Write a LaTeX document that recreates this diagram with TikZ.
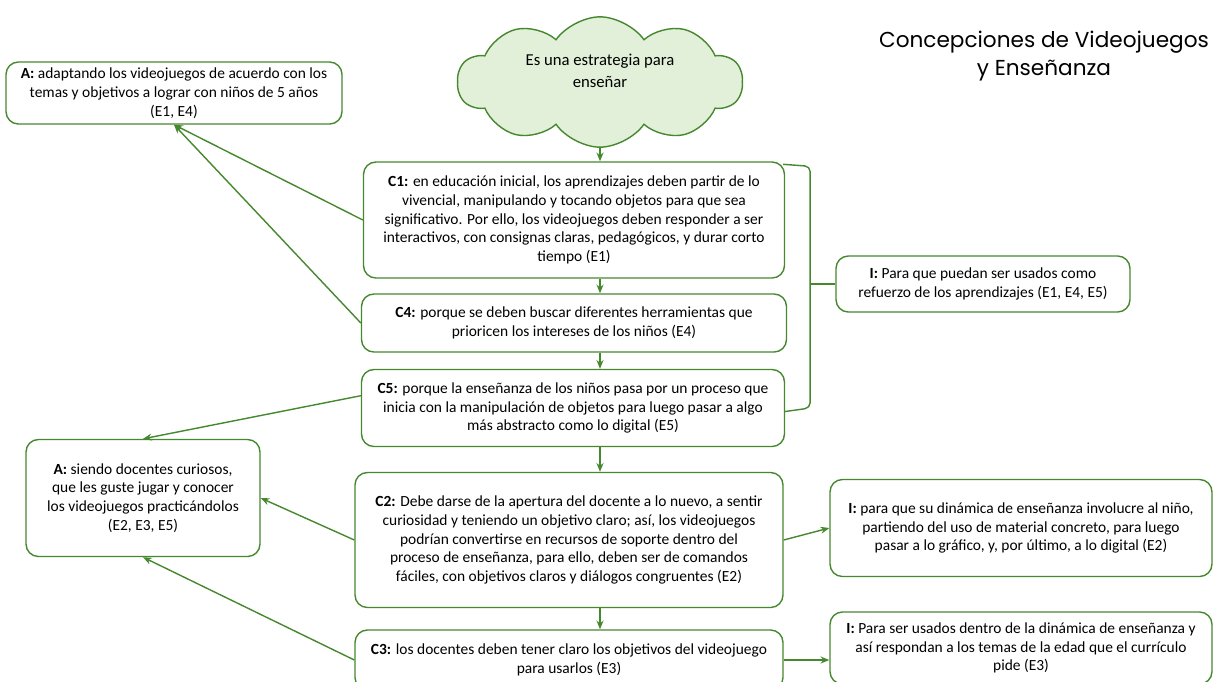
\documentclass[tikz,border=0pt]{standalone}
\usepackage{fontspec}
\setmainfont{Carlito}
\newfontfamily\titlefont{Poppins}
\usetikzlibrary{shapes.symbols,arrows.meta}
\definecolor{boxgreen}{RGB}{70,136,46}
\definecolor{cloudfill}{RGB}{226,240,218}

\begin{document}
\begin{tikzpicture}[x=0.02cm,y=-0.02cm,
		box/.style={draw=boxgreen, line width=0.8pt, rounded corners=7pt, align=center, inner sep=0pt, font=\fontsize{8.8}{10.7}\selectfont},
		link/.style={draw=boxgreen, line width=0.8pt},
		arr/.style={link, -{Stealth[length=5pt,width=4pt]}}]
	\useasboundingbox (0,0) rectangle (1225,681);
	% titulo
	\node[font=\titlefont\fontsize{12.3}{15.5}\selectfont, align=center] (titulo) at (1044,56) {Concepciones de Videojuegos\\y Enseñanza};
	% nube
	\node[cloud, cloud puffs=10, cloud puff arc=110, aspect=2.3, draw=boxgreen, fill=cloudfill, line width=0.8pt, minimum width=5.7cm, minimum height=2.55cm, align=center, font=\fontsize{9.5}{12.5}\selectfont] (nube) at (600,82) {Es una estrategia para\\enseñar\\\mbox{}};
	% columna central
	\node[box, minimum width=8.42cm, minimum height=2.32cm] (C1) at (574,220) {\textbf{C1:} en educación inicial, los aprendizajes deben partir de lo\\vivencial, manipulando y tocando objetos para que sea\\significativo. Por ello, los videojuegos deben responder a ser\\interactivos, con consignas claras, pedagógicos, y durar corto\\tiempo (E1)};
	\node[box, minimum width=8.5cm, minimum height=1.16cm] (C4) at (574,323) {\textbf{C4:} porque se deben buscar diferentes herramientas que\\prioricen los intereses de los niños (E4)};
	\node[box, minimum width=8.46cm, minimum height=1.54cm] (C5) at (573,408) {\textbf{C5:} porque la enseñanza de los niños pasa por un proceso que\\inicia con la manipulación de objetos para luego pasar a algo\\más abstracto como lo digital (E5)};
	\node[box, minimum width=8.56cm, minimum height=2.7cm] (C2) at (569,540) {\textbf{C2:} Debe darse de la apertura del docente a lo nuevo, a sentir\\curiosidad y teniendo un objetivo claro; así, los videojuegos\\podrían convertirse en recursos de soporte dentro del\\proceso de enseñanza, para ello, deben ser de comandos\\fáciles, con objetivos claros y diálogos congruentes (E2)};
	\node[box, minimum width=8.56cm, minimum height=1.2cm] (C3) at (569,660) {\textbf{C3:} los docentes deben tener claro los objetivos del videojuego\\para usarlos (E3)};
	% acciones
	\node[box, minimum width=6.72cm, minimum height=1.24cm] (A1) at (174,93) {\textbf{A:} adaptando los videojuegos de acuerdo con los\\temas y objetivos a lograr con niños de 5 años\\(E1, E4)};
	\node[box, minimum width=4.68cm, minimum height=2.34cm] (A2) at (143,498) {\textbf{A:} siendo docentes curiosos,\\que les guste jugar y conocer\\los videojuegos practicándolos\\(E2, E3, E5)};
	% intenciones
	\node[box, minimum width=5.88cm, minimum height=1.12cm] (I1) at (983,284) {\textbf{I:} Para que puedan ser usados como\\refuerzo de los aprendizajes (E1, E4, E5)};
	\node[box, minimum width=7.64cm, minimum height=1.94cm] (I2) at (1021,528) {\textbf{I:} para que su dinámica de enseñanza involucre al niño,\\partiendo del uso de material concreto, para luego\\pasar a lo gráfico, y, por último, a lo digital (E2)};
	\node[box, minimum width=7.64cm, minimum height=1.44cm] (I3) at (1021,648) {\textbf{I:} Para ser usados dentro de la dinámica de enseñanza y\\así respondan a los temas de la edad que el currículo\\pide (E3)};
	% flechas verticales
	\draw[arr] (nube.south) -- (nube.south |- C1.north);
	\draw[arr] (C1.south -| nube.south) -- (C4.north -| nube.south);
	\draw[arr] (C4.south -| nube.south) -- (C5.north -| nube.south);
	\draw[arr] (C5.south -| nube.south) -- (C2.north -| nube.south);
	\draw[arr] (C2.south -| nube.south) -- (C3.north -| nube.south);
	% hacia las acciones
	\draw[arr] (C1.west) -- (A1.south);
	\draw[arr] (C4.west) -- (A1.south);
	\draw[arr] ([yshift=7pt]C5.west) -- (A2.north);
	\draw[arr] (C2.west) -- (A2.east);
	\draw[arr] (C3.west) -- (A2.south);
	% hacia las intenciones
	\draw[link, rounded corners=3pt] ([shift={(-2,3)}]C1.north east) -- ++(27,2) coordinate (llave) -- (llave |- C5.east) -- ([yshift=-2pt]C5.east);
	\draw[link, rounded corners=3pt] (llave |- I1.west) -- (I1.west);
	\draw[arr] (C2.east) -- (I2.west);
	\draw[arr] (C3.east) -- (C3.east -| I3.west);
\end{tikzpicture}
\end{document}
